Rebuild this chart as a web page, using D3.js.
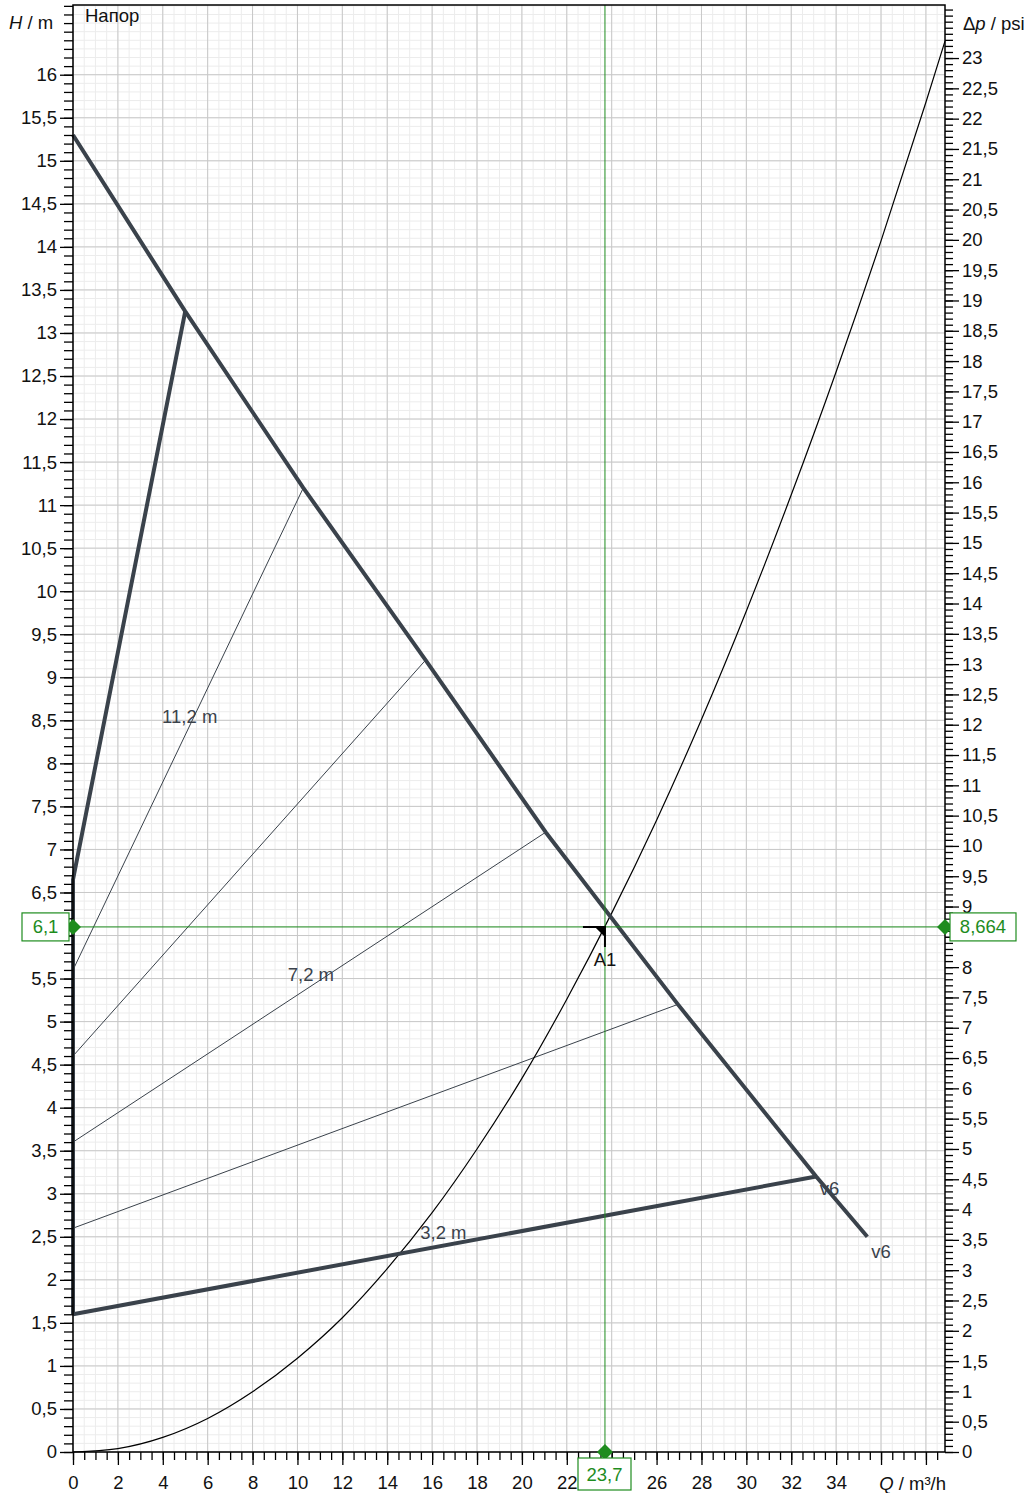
<!DOCTYPE html>
<html>
<head>
<meta charset="utf-8">
<script src="https://cdn.jsdelivr.net/npm/d3@7"></script>
<style>
  body { margin: 0; background: #fff; }
  svg text { font-family: "Liberation Sans", Arial, sans-serif; }
</style>
</head>
<body>
<svg id="chart" width="1030" height="1493"></svg>
<script>
// pump curve values (Q in m³/h, H in m)
let maxQ = [0, 5, 10.26, 15.71, 21.06, 26.95, 33.11, 35.39]
let maxH = [15.3, 13.25, 11.2, 9.2, 7.2, 5.2, 3.2, 2.5]

let leftQ = [0, 0, 5]
let leftH = [1.6, 6.65, 13.25]

let minQ = [0, 33.11]
let minH = [1.6, 3.2]

// constant pressure lines: start at Q=0, end on max curve
let constStartH = [5.6, 4.6, 3.6, 2.6]
let constEndQ = [10.26, 15.71, 21.06, 26.95]
let constEndH = [11.2, 9.2, 7.2, 5.2]

let constLabels = ['11,2 m', '7,2 m', '3,2 m']
let constLabelQ = [5.2, 10.6, 16.5]
let constLabelH = [8.47, 5.47, 2.47]

let curveLabels = ['v6', 'v6']
let curveLabelQ = [33.7, 36.0]
let curveLabelH = [2.99, 2.25]

// system curve
let sysQ = [0, 2, 4, 6, 8, 10, 12, 14, 16, 18, 20, 22, 24, 26, 28, 30, 32, 34, 36, 38, 38.85]
let sysH = [0, 0.04, 0.17, 0.39, 0.70, 1.09, 1.56, 2.13, 2.78, 3.52, 4.34, 5.26, 6.26, 7.34, 8.51, 9.77, 11.12, 12.55, 14.07, 15.68, 16.39]

let opQ = 23.7
let opH = 6.1
let opPsi = 8.664
let psiPerM = 1.4203

let xMajor = d3.range(0, 39, 2)
let yMajor = d3.range(0, 16.01, 0.5)
let psiMajor = d3.range(0, 23.01, 0.5)

// labels hidden under the value boxes
let xHidden = [24, 36, 38]
let yHidden = [6]
let psiHidden = [8.5]

let fmt = (v) => String(+v.toFixed(3)).replace('.', ',')

let svg = d3.select('#chart')
let pLeft = 73, pRight = 945, pTop = 5, pBottom = 1452
let fs = 18.5

let x = d3.scaleLinear().domain([0, 38.85]).range([pLeft, pRight])
let y = d3.scaleLinear().domain([0, 16.81]).range([pBottom, pTop])
let yPsi = d3.scaleLinear().domain([0, 16.81 * psiPerM]).range([pBottom, pTop])

let dark = '#3a424b'
let green = '#1e8c1e'

// grid
let grid = svg.append('g')
grid.selectAll('.vmin').data(d3.range(0, 38.85, 0.5)).enter().append('line')
    .attr('x1', d => x(d)).attr('x2', d => x(d)).attr('y1', pTop).attr('y2', pBottom)
    .attr('stroke', '#ececec').attr('stroke-width', 1)
grid.selectAll('.hmin').data(d3.range(0, 16.81, 0.1)).enter().append('line')
    .attr('x1', pLeft).attr('x2', pRight).attr('y1', d => y(d)).attr('y2', d => y(d))
    .attr('stroke', '#ececec').attr('stroke-width', 1)
grid.selectAll('.vmaj').data(d3.range(0, 38.85, 2)).enter().append('line')
    .attr('x1', d => x(d)).attr('x2', d => x(d)).attr('y1', pTop).attr('y2', pBottom)
    .attr('stroke', '#c8c8c8').attr('stroke-width', 1)
grid.selectAll('.hmaj').data(yMajor).enter().append('line')
    .attr('x1', pLeft).attr('x2', pRight).attr('y1', d => y(d)).attr('y2', d => y(d))
    .attr('stroke', '#c8c8c8').attr('stroke-width', 1)

let line = d3.line().x(d => x(d[0])).y(d => y(d[1]))

// constant pressure lines
constStartH.forEach((h, i) => {
    svg.append('path')
        .attr('d', line([[0, h], [constEndQ[i], constEndH[i]]]))
        .attr('fill', 'none').attr('stroke', dark).attr('stroke-width', 1)
})

// system curve
svg.append('path')
    .attr('d', d3.line().x(d => x(d[0])).y(d => y(d[1])).curve(d3.curveMonotoneX)(d3.zip(sysQ, sysH)))
    .attr('fill', 'none').attr('stroke', '#000').attr('stroke-width', 1.2)

// pump curves
let thick = (q, h) => svg.append('path')
    .attr('d', line(d3.zip(q, h)))
    .attr('fill', 'none').attr('stroke', dark).attr('stroke-width', 4)
    .attr('stroke-linejoin', 'round')
thick(maxQ, maxH)
thick(leftQ, leftH)
thick(minQ, minH)

// labels on curves
constLabels.forEach((t, i) => {
    svg.append('text').attr('x', x(constLabelQ[i])).attr('y', y(constLabelH[i]))
        .attr('text-anchor', 'middle').attr('font-size', fs).attr('fill', dark).text(t)
})
curveLabels.forEach((t, i) => {
    svg.append('text').attr('x', x(curveLabelQ[i])).attr('y', y(curveLabelH[i]))
        .attr('text-anchor', 'middle').attr('font-size', fs).attr('fill', dark).text(t)
})

// operating point lines
svg.append('line').attr('x1', x(opQ)).attr('x2', x(opQ)).attr('y1', pTop).attr('y2', pBottom)
    .attr('stroke', green).attr('stroke-width', 1)
svg.append('line').attr('x1', pLeft).attr('x2', pRight).attr('y1', y(opH)).attr('y2', y(opH))
    .attr('stroke', green).attr('stroke-width', 1)

// A1 marker
let px = x(opQ), py = y(opH)
svg.append('path')
    .attr('d', `M${px - 22},${py} L${px},${py} L${px},${py + 20}`)
    .attr('fill', 'none').attr('stroke', '#000').attr('stroke-width', 2)
svg.append('path')
    .attr('d', `M${px - 10},${py} L${px},${py} L${px},${py + 10} Z`)
    .attr('fill', '#000')
svg.append('text').attr('x', px).attr('y', py + 39).attr('text-anchor', 'middle')
    .attr('font-size', fs).attr('fill', '#111').text('A1')

// frame
svg.append('rect').attr('x', pLeft).attr('y', pTop).attr('width', pRight - pLeft).attr('height', pBottom - pTop)
    .attr('fill', 'none').attr('stroke', '#000').attr('stroke-width', 1.5)

// left axis
let yAxis = d3.axisLeft(y).tickValues(d3.range(0, 16.81, 0.1)).tickSize(9).tickFormat('')
svg.append('g').attr('transform', `translate(${pLeft},0)`).call(yAxis)
let yAxisMaj = d3.axisLeft(y).tickValues(yMajor).tickSize(13).tickPadding(3)
    .tickFormat(d => yHidden.includes(d) ? '' : fmt(d))
svg.append('g').attr('transform', `translate(${pLeft},0)`).call(yAxisMaj)

// right axis
let pAxis = d3.axisRight(yPsi).tickValues(d3.range(0, 16.81 * psiPerM, 0.1)).tickSize(8).tickFormat('')
svg.append('g').attr('transform', `translate(${pRight},0)`).call(pAxis)
let pAxisMaj = d3.axisRight(yPsi).tickValues(psiMajor).tickSize(14).tickPadding(3)
    .tickFormat(d => psiHidden.includes(d) ? '' : fmt(d))
svg.append('g').attr('transform', `translate(${pRight},0)`).call(pAxisMaj)

// bottom axis
let xAxis = d3.axisBottom(x).tickValues(d3.range(0, 38.85, 0.5)).tickSize(8).tickFormat('')
svg.append('g').attr('transform', `translate(0,${pBottom})`).call(xAxis)
let xAxisMaj = d3.axisBottom(x).tickValues(xMajor).tickSize(13).tickPadding(11)
    .tickFormat(d => xHidden.includes(d) ? '' : fmt(d))
svg.append('g').attr('transform', `translate(0,${pBottom})`).call(xAxisMaj)

svg.selectAll('.domain').remove()
svg.selectAll('.tick line').attr('stroke', '#000').attr('stroke-width', 1.3)
svg.selectAll('.tick text').attr('font-size', fs).attr('fill', '#111')
    .style('font-family', '"Liberation Sans", Arial, sans-serif')

// axis titles
let t1 = svg.append('text').attr('x', 9).attr('y', 29).attr('font-size', fs).attr('fill', '#111')
t1.append('tspan').attr('font-style', 'italic').text('H')
t1.append('tspan').text(' / m')
svg.append('text').attr('x', 85).attr('y', 22).attr('font-size', fs).attr('fill', '#111').text('Напор')
let t2 = svg.append('text').attr('x', 963).attr('y', 30).attr('font-size', fs).attr('fill', '#111')
t2.append('tspan').text('Δ')
t2.append('tspan').attr('font-style', 'italic').text('p')
t2.append('tspan').text(' / psi')
let t3 = svg.append('text').attr('x', 946).attr('y', 1490).attr('text-anchor', 'end').attr('font-size', fs).attr('fill', '#111')
t3.append('tspan').attr('font-style', 'italic').text('Q')
t3.append('tspan').text(' / m³/h')

// green diamonds and value boxes
let diamond = (cx, cy) => svg.append('path')
    .attr('d', `M${cx - 8},${cy} L${cx},${cy - 8} L${cx + 8},${cy} L${cx},${cy + 8} Z`)
    .attr('fill', green)
diamond(pLeft, py)
diamond(pRight, py)
diamond(px, pBottom)

let box = (bx, by, w, h, t) => {
    svg.append('rect').attr('x', bx).attr('y', by).attr('width', w).attr('height', h)
        .attr('fill', '#fff').attr('stroke', green).attr('stroke-width', 1.2)
    svg.append('text').attr('x', bx + w / 2).attr('y', by + h / 2 + 6.5).attr('text-anchor', 'middle')
        .attr('font-size', fs).attr('fill', green).text(t)
}
box(22, py - 14, 47, 28, fmt(opH))
box(950, py - 14, 66, 28, fmt(opPsi))
box(578, pBottom + 6, 53, 32, fmt(opQ))
</script>
</body>
</html>
